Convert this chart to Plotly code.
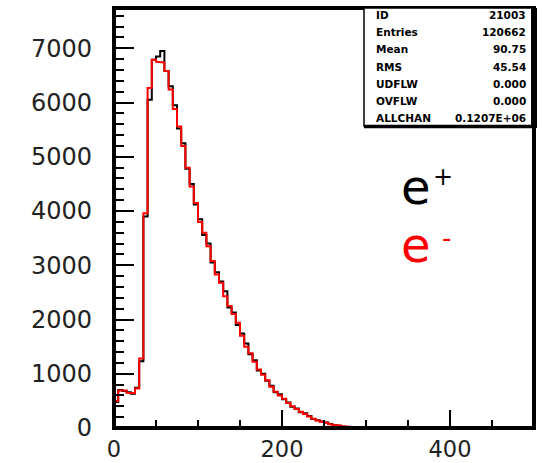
import plotly.graph_objects as go

# ---------------- data ----------------
bin_width = 5
x_min, x_max = 0, 500
y_max = 7743

# e- (red) histogram contents, bins of width 5 starting at 0
e_minus = [500, 690, 690, 650, 640, 730, 1280, 3960, 6270, 6790,
           6750, 6740, 6580, 6240, 5880, 5560, 5200, 4800, 4450, 4150,
           3800, 3600, 3350, 3080, 2830, 2680, 2430, 2250, 2100, 1940,
           1700, 1500, 1380, 1220, 1080, 980, 880, 760, 670, 600,
           540, 460, 400, 350, 300, 260, 210, 170, 140, 115,
           95, 70, 55, 45, 35, 25, 15]

# e+ (black) histogram contents
e_plus = [480, 700, 680, 660, 630, 740, 1230, 3900, 6050, 6790,
          6850, 6950, 6580, 6300, 5950, 5520, 5250, 4780, 4500, 4120,
          3850, 3560, 3400, 3050, 2870, 2700, 2520, 2220, 2130, 1900,
          1740, 1560, 1360, 1250, 1060, 1000, 870, 780, 660, 620,
          530, 470, 390, 360, 290, 270, 220, 165, 145, 120,
          100, 75, 50, 40, 25, 15, 5]

stat_labels = ["ID", "Entries", "Mean", "RMS", "UDFLW", "OVFLW", "ALLCHAN"]
stat_values = ["21003", "120662", "90.75", "45.54", "0.000", "0.000", "0.1207E+06"]

x_tickvals = [0, 200, 400]
y_tickvals = [0, 1000, 2000, 3000, 4000, 5000, 6000, 7000]


def step_xy(vals):
    xs, ys = [0], [0]
    for i, v in enumerate(vals):
        xs += [i * bin_width, (i + 1) * bin_width]
        ys += [v, v]
    xs.append(len(vals) * bin_width)
    ys.append(0)
    return xs, ys


fig = go.Figure()
xp, yp = step_xy(e_plus)
fig.add_trace(go.Scatter(x=xp, y=yp, mode="lines",
                         line=dict(color="black", width=2), showlegend=False))
xm, ym = step_xy(e_minus)
fig.add_trace(go.Scatter(x=xm, y=ym, mode="lines",
                         line=dict(color="#ff0000", width=2), showlegend=False))

# ---------------- layout ----------------
W, H = 542, 463
L, R, T, B = 114, 8, 8, 35
PW, PH = W - L - R, H - T - B


def px_x(px):
    return (px - L) / PW


def px_y(py):
    return (H - B - py) / PH


tick_font = dict(family="DejaVu Sans", size=24, color="#222222")
xtick_font = dict(family="DejaVu Sans", size=22.5, color="#222222")

fig.update_xaxes(range=[x_min, x_max], showgrid=False, zeroline=False,
                 showline=False, ticks="inside", ticklen=18, tickwidth=2,
                 tickcolor="black", tickvals=x_tickvals,
                 ticktext=[str(v) for v in x_tickvals], automargin=False,
                 tickfont=xtick_font, ticklabelstandoff=5,
                 minor=dict(ticks="inside", ticklen=8, tickwidth=2,
                            tickcolor="black", dtick=50, tick0=0))
fig.update_yaxes(range=[0, y_max], showgrid=False, zeroline=False,
                 showline=False, ticks="inside", ticklen=20, tickwidth=2,
                 tickcolor="black", tickvals=y_tickvals,
                 ticktext=[str(v) for v in y_tickvals], automargin=False,
                 tickfont=tick_font, ticklabelstandoff=21,
                 minor=dict(ticks="inside", ticklen=10, tickwidth=2,
                            tickcolor="black", dtick=200, tick0=0))

shapes = [
    # frame
    dict(type="rect", xref="paper", yref="paper", x0=0, x1=1, y0=0, y1=1,
         line=dict(color="black", width=4), layer="above"),
    # stats box
    dict(type="rect", xref="paper", yref="paper", x0=px_x(364), x1=1,
         y0=px_y(126), y1=1, line=dict(color="black", width=1.5),
         fillcolor="white", layer="above"),
    dict(type="line", xref="paper", yref="paper", x0=px_x(364), x1=1,
         y0=px_y(126.5), y1=px_y(126.5), line=dict(color="black", width=3.5),
         layer="above"),
    dict(type="line", xref="paper", yref="paper", x0=1, x1=1,
         y0=px_y(128), y1=1, line=dict(color="black", width=6),
         layer="above"),
]

annotations = []
row_y0, row_dy = 15, 17.2
for i, (lab, val) in enumerate(zip(stat_labels, stat_values)):
    py = row_y0 + i * row_dy
    sf = dict(family="DejaVu Sans", size=10.5, color="black", weight="bold")
    annotations.append(dict(xref="paper", yref="paper", x=px_x(374), y=px_y(py),
                            xanchor="left", yanchor="middle", text=lab,
                            showarrow=False, font=sf))
    annotations.append(dict(xref="paper", yref="paper", x=px_x(528), y=px_y(py),
                            xanchor="right", yanchor="middle", text=val,
                            showarrow=False, font=sf))

# e+ / e- labels
annotations += [
    dict(xref="paper", yref="paper", x=px_x(399), y=px_y(187), xanchor="left",
         yanchor="middle", text="e", showarrow=False,
         font=dict(family="DejaVu Sans", size=48, color="black")),
    dict(xref="paper", yref="paper", x=px_x(443), y=px_y(177), xanchor="center",
         yanchor="middle", text="+", showarrow=False,
         font=dict(family="DejaVu Sans", size=24, color="black")),
    dict(xref="paper", yref="paper", x=px_x(399), y=px_y(245), xanchor="left",
         yanchor="middle", text="e", showarrow=False,
         font=dict(family="DejaVu Sans", size=48, color="#ff0000")),
    dict(xref="paper", yref="paper", x=px_x(446.5), y=px_y(238), xanchor="center",
         yanchor="middle", text="-", showarrow=False,
         font=dict(family="DejaVu Sans", size=26, color="#ff0000")),
]

fig.update_layout(width=W, height=H, margin=dict(l=L, r=R, t=T, b=B),
                  paper_bgcolor="white", plot_bgcolor="white",
                  shapes=shapes, annotations=annotations, showlegend=False)

fig.write_html("out.html")
